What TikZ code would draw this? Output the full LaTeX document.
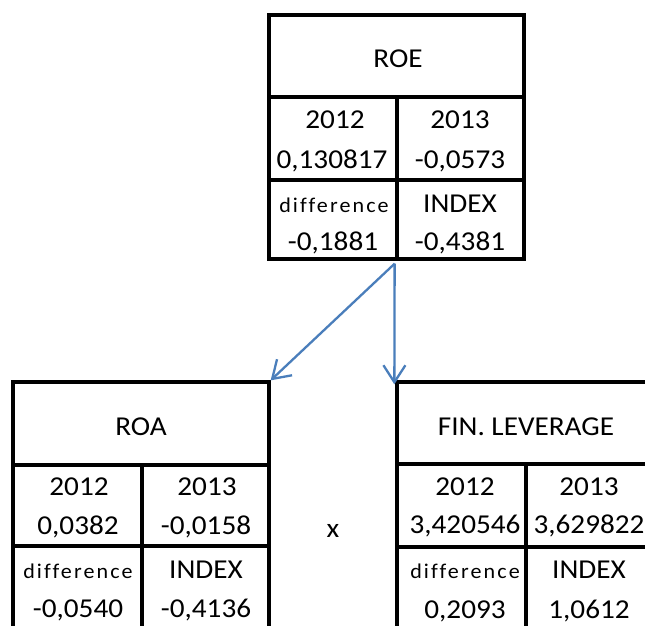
\documentclass[tikz,border=0pt]{standalone}
\usepackage{fontspec}
\setmainfont{Carlito}[FakeStretch=1.07]
\newfontfamily\spacedfont{Carlito}[FakeStretch=1.05,LetterSpace=10,Ligatures=NoCommon,RawFeature=-liga]
\usetikzlibrary{arrows.meta}
\definecolor{linkblue}{HTML}{4A7EBB}

\tikzset{
  cell/.style={draw=black, line width=3.3pt, rectangle, inner sep=0pt},
  val/.style={anchor=base, inner sep=0pt, font=\fontsize{27.3}{31}\selectfont},
  lbl/.style={anchor=base, inner sep=0pt, font=\spacedfont\fontsize{21}{25}\selectfont},
  link/.style={draw=linkblue, line width=2.3pt,
    -{Straight Barb[length=17pt,width=22pt,line width=2.3pt]}}
}

\begin{document}
\begin{tikzpicture}[x=1pt,y=-1pt]
\useasboundingbox (0,0) rectangle (645,626);
\clip (0,0) rectangle (645,626);

% --- ROE table ---
\node[cell, minimum width=255pt, minimum height=82pt] (roeH) at (396.5,56) {};
\node[cell, minimum width=128pt, minimum height=83pt] (roeA) at (333,138.5) {};
\node[cell, minimum width=127pt, minimum height=83pt] (roeB) at (460.5,138.5) {};
\node[cell, minimum width=128pt, minimum height=79pt] (roeC) at (333,219.5) {};
\node[cell, minimum width=127pt, minimum height=79pt] (roeD) at (460.5,219.5) {};

\node[val] (roeT)  at (398,67)  {ROE};
\node[val] (roeY1) at (335,128) {2012};
\node[val] (roeV1) at (332,168) {0,130817};
\node[val] (roeY2) at (460,128) {2013};
\node[val] (roeV2) at (460,168) {-0,0573};
\node[lbl] (roeL1) at (334,212) {difference};
\node[val] (roeV3) at (333,250) {-0,1881};
\node[val] (roeL2) at (460,212) {INDEX};
\node[val] (roeV4) at (460,250) {-0,4381};

% --- ROA table ---
\node[cell, minimum width=256pt, minimum height=83pt] (roaH) at (141,423.5) {};
\node[cell, minimum width=129pt, minimum height=81pt] (roaA) at (77.5,505.5) {};
\node[cell, minimum width=127pt, minimum height=81pt] (roaB) at (205.5,505.5) {};
\node[cell, minimum width=129pt, minimum height=100pt] (roaC) at (77.5,596) {};
\node[cell, minimum width=127pt, minimum height=100pt] (roaD) at (205.5,596) {};

\node[val] (roaT)  at (141,435) {ROA};
\node[val] (roaY1) at (79,495)  {2012};
\node[val] (roaV1) at (78,534)  {0,0382};
\node[val] (roaY2) at (207,495) {2013};
\node[val] (roaV2) at (206,534) {-0,0158};
\node[lbl] (roaL1) at (78,578)  {difference};
\node[val] (roaV3) at (78,617)  {-0,0540};
\node[val] (roaL2) at (206,578) {INDEX};
\node[val] (roaV4) at (206,617) {-0,4136};

% --- multiplication sign ---
\node[val] (times) at (333,537) {x};

% --- FIN. LEVERAGE table ---
\node[cell, minimum width=259pt, minimum height=82pt] (levH) at (526.5,423) {};
\node[cell, minimum width=129pt, minimum height=83pt] (levA) at (461.5,505.5) {};
\node[cell, minimum width=130pt, minimum height=83pt] (levB) at (591,505.5) {};
\node[cell, minimum width=129pt, minimum height=100pt] (levC) at (461.5,597) {};
\node[cell, minimum width=130pt, minimum height=100pt] (levD) at (591,597) {};

\node[val] (levT)  at (526,435) {FIN. LEVERAGE};
\node[val] (levY1) at (465,495) {2012};
\node[val] (levV1) at (465,533) {3,420546};
\node[val] (levY2) at (589,495) {2013};
\node[val] (levV2) at (589,533) {3,629822};
\node[lbl] (levL1) at (465,578) {difference};
\node[val] (levV3) at (465,618) {0,2093};
\node[val] (levL2) at (589,578) {INDEX};
\node[val] (levV4) at (589,618) {1,0612};

% --- decomposition arrows ---
\coordinate (split) at ([shift={(-4pt,-3pt)}]roeC.south east);
\draw[link] (split) -- (roaH.north east);
\draw[link] (split) -- ([shift={(-1pt,-4pt)}]levH.north west);
\end{tikzpicture}
\end{document}
